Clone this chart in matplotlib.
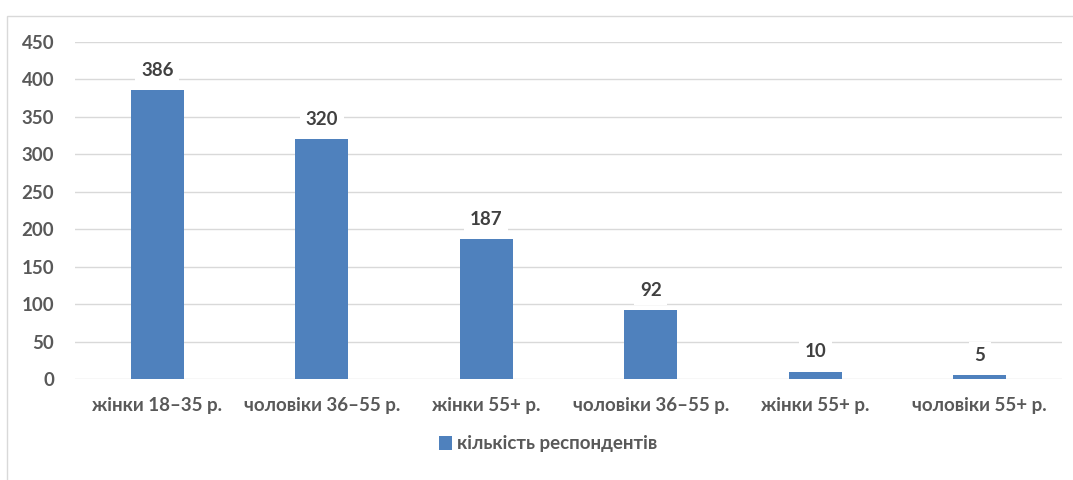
import matplotlib.pyplot as plt
from matplotlib.patches import Rectangle

# Дані діаграми
categories = ['жінки 18–35 р.', 'чоловіки 36–55 р.', 'жінки 55+ р.',
              'чоловіки 36–55 р.', 'жінки 55+ р.', 'чоловіки 55+ р.']
values = [386, 320, 187, 92, 10, 5]
series_name = 'кількість респондентів'
yticks = [0, 50, 100, 150, 200, 250, 300, 350, 400, 450]

bar_color = '#4F81BD'
text_color = '#595959'
plt.rcParams['font.family'] = ['Lato', 'DejaVu Sans']
plt.rcParams['font.weight'] = 'bold'

fig = plt.figure(figsize=(10.73, 4.8), dpi=100)
# рамка області діаграми
fig.patches.append(Rectangle((7 / 1073, -0.05), 1.1, 1 - 16 / 480 + 0.05,
                             transform=fig.transFigure, fill=False,
                             edgecolor='#D9D9D9', linewidth=1))
ax = fig.add_axes([75 / 1073, 1 - 379 / 480, 987 / 1073, 337 / 480])

x = range(len(categories))
bars = ax.bar(x, values, width=0.32, color=bar_color, label=series_name, zorder=2)
for xi, v in zip(x, values):
    ax.annotate(str(v), (xi, v), xytext=(0, 8), textcoords='offset points',
                ha='center', va='bottom', fontsize=13.5, fontweight='bold',
                color='#404040', zorder=3,
                bbox=dict(boxstyle='square,pad=0.3', facecolor='white', edgecolor='none'))

ax.set_xlim(-0.5, len(categories) - 0.5)
ax.set_ylim(0, 450)
ax.set_yticks(yticks)
ax.set_xticks(list(x))
ax.set_xticklabels(categories)
ax.yaxis.grid(True, color='#D9D9D9', linewidth=1, zorder=0)
ax.set_axisbelow(True)
for s in ax.spines.values():
    s.set_visible(False)
ax.tick_params(length=0, labelsize=13.5, labelcolor=text_color)
ax.tick_params(axis='x', pad=13)
ax.tick_params(axis='y', labelsize=13.5, pad=15)
for lbl in ax.get_xticklabels() + ax.get_yticklabels():
    lbl.set_fontweight('bold')

leg = fig.legend(loc='center', bbox_to_anchor=(548 / 1073, 1 - 444 / 480),
                 frameon=False, handlelength=0.7, handleheight=0.7,
                 handletextpad=0.3, prop={'size': 13.5, 'weight': 'bold'})
for t in leg.get_texts():
    t.set_color(text_color)

fig.savefig('out.png', dpi=100)
